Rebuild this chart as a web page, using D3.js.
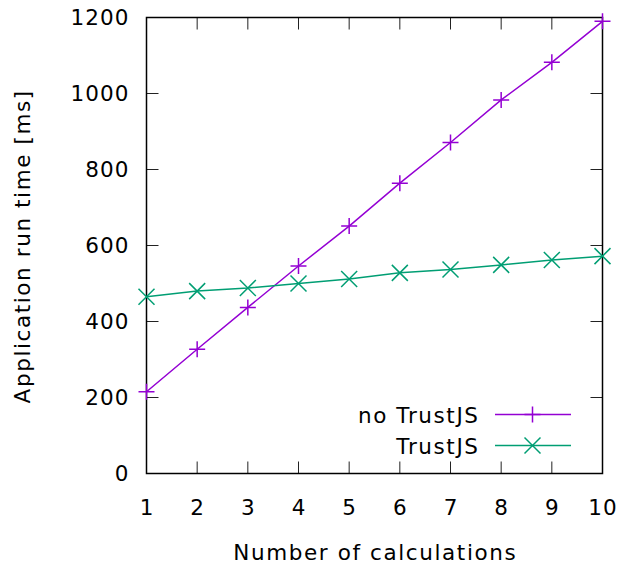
<!DOCTYPE html>
<html>
<head>
<meta charset="utf-8">
<script src="https://cdn.jsdelivr.net/npm/d3@7"></script>
<style>
  body { margin: 0; background: #fff; }
  text { font-family: "DejaVu Sans", sans-serif; }
</style>
</head>
<body>
<div id="chart"></div>
<script>
// data
const calculations = [1, 2, 3, 4, 5, 6, 7, 8, 9, 10];
const noTrustJS = [215, 327, 437, 546, 651, 764, 871, 983, 1082, 1190];
const trustJS = [465, 480, 488, 500, 512, 528, 537, 549, 562, 572];
const yTicks = [0, 200, 400, 600, 800, 1000, 1200];
const seriesNames = ["no TrustJS", "TrustJS"];

const W = 624, H = 564;
const margin = {top: 17.5, right: 21.5, bottom: 90.5, left: 146.5};
const width = W - margin.left - margin.right;
const height = H - margin.top - margin.bottom;

const svg = d3.select("#chart").append("svg")
    .attr("width", W).attr("height", H);
const g = svg.append("g")
    .attr("transform", `translate(${margin.left},${margin.top})`);

const x = d3.scaleLinear().domain([1, 10]).range([0, width]);
const y = d3.scaleLinear().domain([0, 1200]).range([height, 0]);

const tickLen = 12;
const fontSize = 21.5;
const numSpacing = 1.1;  // gnuplot/cairo text comes out a bit wider
const txtSpacing = 1.6;

// ticks (inward, mirrored on top / right)
calculations.forEach(c => {
    g.append("line").attr("x1", x(c)).attr("x2", x(c)).attr("y1", height).attr("y2", height - tickLen)
        .attr("stroke", "#222").attr("stroke-width", 1);
    g.append("line").attr("x1", x(c)).attr("x2", x(c)).attr("y1", 0).attr("y2", tickLen)
        .attr("stroke", "#222").attr("stroke-width", 1);
    g.append("text").attr("x", x(c) + numSpacing / 2).attr("y", height + 41)
        .attr("text-anchor", "middle").attr("font-size", fontSize)
        .attr("letter-spacing", numSpacing).text(c);
});
yTicks.forEach(t => {
    g.append("line").attr("x1", 0).attr("x2", tickLen).attr("y1", y(t)).attr("y2", y(t))
        .attr("stroke", "#222").attr("stroke-width", 1);
    g.append("line").attr("x1", width).attr("x2", width - tickLen).attr("y1", y(t)).attr("y2", y(t))
        .attr("stroke", "#222").attr("stroke-width", 1);
    g.append("text").attr("x", -18 + numSpacing).attr("y", y(t) + 7.8)
        .attr("text-anchor", "end").attr("font-size", fontSize)
        .attr("letter-spacing", numSpacing).text(t);
});

// frame
g.append("rect").attr("x", 0).attr("y", 0).attr("width", width).attr("height", height)
    .attr("fill", "none").attr("stroke", "#000").attr("stroke-width", 1.5);

// axis labels
svg.append("text").attr("x", margin.left + width / 2 + txtSpacing / 2).attr("y", 560)
    .attr("text-anchor", "middle").attr("font-size", fontSize)
    .attr("letter-spacing", txtSpacing).text("Number of calculations");
svg.append("text")
    .attr("transform", `translate(30,${margin.top + height / 2 + txtSpacing / 2}) rotate(-90)`)
    .attr("text-anchor", "middle").attr("font-size", fontSize)
    .attr("letter-spacing", txtSpacing).text("Application run time [ms]");

const colors = ["#9400d3", "#009e73"];
const series = [noTrustJS, trustJS];
const ms = 8;

function plusPath(cx, cy) {
    return `M${cx - ms},${cy}H${cx + ms}M${cx},${cy - ms}V${cy + ms}`;
}
function crossPath(cx, cy) {
    return `M${cx - ms},${cy - ms}L${cx + ms},${cy + ms}M${cx - ms},${cy + ms}L${cx + ms},${cy - ms}`;
}
const markers = [plusPath, crossPath];

const line = d3.line().x((d, i) => x(calculations[i])).y(d => y(d));

series.forEach((s, k) => {
    g.append("path").datum(s).attr("d", line)
        .attr("fill", "none").attr("stroke", colors[k]).attr("stroke-width", 1.5);
    g.selectAll(".m" + k).data(s).enter().append("path")
        .attr("d", (d, i) => markers[k](x(calculations[i]), y(d)))
        .attr("fill", "none").attr("stroke", colors[k]).attr("stroke-width", 1.5);
});

// legend
const legendY = [414.5, 445.5];
seriesNames.forEach((name, k) => {
    svg.append("text").attr("x", 478 + txtSpacing).attr("y", legendY[k] + 8)
        .attr("text-anchor", "end").attr("font-size", fontSize)
        .attr("letter-spacing", txtSpacing).text(name);
    svg.append("line").attr("x1", 495).attr("x2", 571).attr("y1", legendY[k]).attr("y2", legendY[k])
        .attr("stroke", colors[k]).attr("stroke-width", 1.5);
    svg.append("path").attr("d", markers[k](532.5, legendY[k]))
        .attr("fill", "none").attr("stroke", colors[k]).attr("stroke-width", 1.5);
});
</script>
</body>
</html>
